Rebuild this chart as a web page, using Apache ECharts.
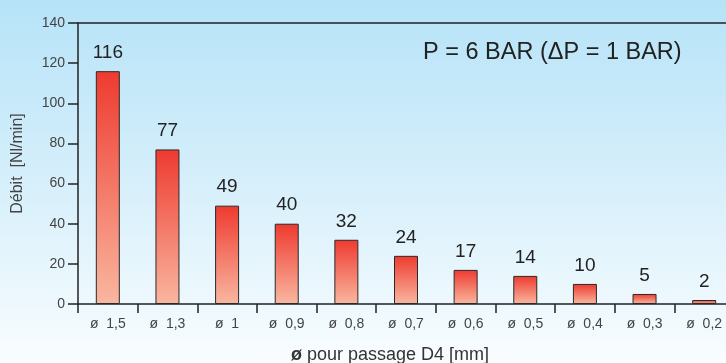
<!DOCTYPE html>
<html>
<head>
<meta charset="utf-8">
<script src="https://cdn.jsdelivr.net/npm/echarts@6/dist/echarts.min.js"></script>
<style>
  html, body { margin: 0; padding: 0; }
  #chart { width: 726px; height: 363px; background: linear-gradient(to bottom, #b6e3f8 0%, #d6effb 50%, #f9fdff 100%); }
</style>
</head>
<body>
<div id="chart"></div>
<script>
// Orifice sizes and flow rates
const categories = ['ø  1,5', 'ø  1,3', 'ø  1', 'ø  0,9', 'ø  0,8', 'ø  0,7', 'ø  0,6', 'ø  0,5', 'ø  0,4', 'ø  0,3', 'ø  0,2'];
const flowValues = [116, 77, 49, 40, 32, 24, 17, 14, 10, 5, 2];
const yTicks = [0, 20, 40, 60, 80, 100, 120, 140];

const FONT = '"Liberation Sans", Arial, Helvetica, sans-serif';
const chart = echarts.init(document.getElementById('chart'), null, { renderer: 'canvas' });

const axisLineStyle = { color: '#222', width: 1.5 };

chart.setOption({
  backgroundColor: 'transparent',
  animation: false,
  // the last category runs slightly past the right edge
  grid: { left: 78, width: 656, top: 23, bottom: 59, containLabel: false, outerBoundsMode: 'none' },
  graphic: [{
    type: 'text',
    left: 423, top: 41,
    style: { text: 'P = 6 BAR (ΔP = 1 BAR)', font: '23.5px ' + FONT, fill: '#222' }
  }],
  xAxis: [{
    type: 'category',
    data: categories,
    position: 'bottom',
    axisLine: { show: true, lineStyle: axisLineStyle },
    axisTick: { show: true, alignWithLabel: false, length: 9, lineStyle: axisLineStyle },
    axisLabel: { color: '#444', fontFamily: FONT, fontSize: 14, margin: 13 },
    name: '{b|ø} pour passage D4 [mm]',
    nameLocation: 'middle',
    nameGap: 42,
    nameTextStyle: {
      color: '#333', fontFamily: FONT, fontSize: 18, padding: [0, 32, 0, 0],
      rich: { b: { fontFamily: FONT, fontSize: 18, fontWeight: 'bold', color: '#333' } }
    }
  }, {
    type: 'category',
    data: categories,
    position: 'top',
    axisLine: { show: true, lineStyle: axisLineStyle },
    axisTick: { show: false },
    axisLabel: { show: false }
  }],
  yAxis: {
    type: 'value',
    min: yTicks[0],
    max: yTicks[yTicks.length - 1],
    interval: 20,
    axisLine: { show: true, lineStyle: axisLineStyle },
    axisTick: { show: true, length: 10, inside: false, lineStyle: axisLineStyle },
    axisLabel: { color: '#444', fontFamily: FONT, fontSize: 14, margin: 13 },
    splitLine: { show: false },
    name: 'Débit  [Nl/min]',
    nameLocation: 'middle',
    nameGap: 52,
    nameTextStyle: { color: '#444', fontFamily: FONT, fontSize: 16 }
  },
  series: [{
    type: 'bar',
    data: flowValues,
    barWidth: 24,
    itemStyle: {
      borderColor: '#2a2a2a',
      borderWidth: 1,
      color: new echarts.graphic.LinearGradient(0, 0, 0, 1, [
        { offset: 0, color: '#ee3a2f' },
        { offset: 1, color: '#f9b7a0' }
      ])
    },
    label: {
      show: true,
      position: 'top',
      distance: 9,
      color: '#222',
      fontFamily: FONT,
      fontSize: 19
    }
  }]
});
</script>
</body>
</html>
